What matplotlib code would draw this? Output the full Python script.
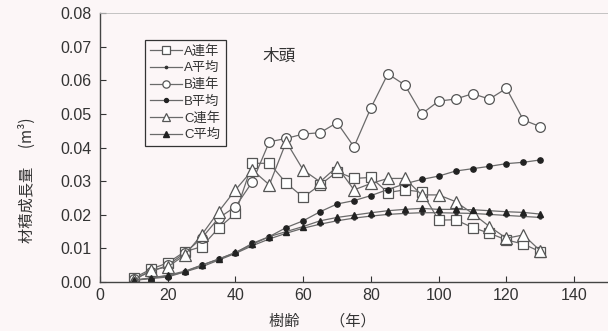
import numpy as np
import matplotlib
matplotlib.use("Agg")
import matplotlib.pyplot as plt

plt.rcParams['font.family'] = ['Liberation Sans', 'Noto Sans CJK JP', 'DejaVu Sans']

# Tree age (years)
ages = list(range(10, 135, 5))

# Annual volume growth (m3)
a_annual = [0.0012, 0.0038, 0.0057, 0.0090, 0.0105, 0.0160, 0.0204, 0.0353, 0.0353, 0.0294,
            0.0252, 0.0289, 0.0328, 0.0308, 0.0311, 0.0266, 0.0274, 0.0268, 0.0184, 0.0185,
            0.0162, 0.0145, 0.0125, 0.0113, 0.0090]
a_mean = [0.0005, 0.0012, 0.0018, 0.0030, 0.0045, 0.0065, 0.0085, 0.0108, 0.0128, 0.0145,
          0.0160, 0.0172, 0.0182, 0.0190, 0.0196, 0.0201, 0.0204, 0.0206, 0.0206, 0.0205,
          0.0204, 0.0201, 0.0198, 0.0195, 0.0192]
b_annual = [0.0010, 0.0030, 0.0050, 0.0086, 0.0130, 0.0190, 0.0224, 0.0298, 0.0417, 0.0427,
            0.0440, 0.0444, 0.0474, 0.0402, 0.0518, 0.0619, 0.0586, 0.0500, 0.0538, 0.0544,
            0.0560, 0.0544, 0.0576, 0.0482, 0.0462]
b_mean = [0.0005, 0.0010, 0.0015, 0.0030, 0.0050, 0.0068, 0.0087, 0.0115, 0.0135, 0.0162,
          0.0182, 0.0209, 0.0232, 0.0242, 0.0257, 0.0275, 0.0292, 0.0305, 0.0315, 0.0330,
          0.0337, 0.0344, 0.0352, 0.0356, 0.0363]
c_annual = [0.0005, 0.0035, 0.0045, 0.0080, 0.0140, 0.0209, 0.0274, 0.0333, 0.0289, 0.0417,
            0.0333, 0.0298, 0.0343, 0.0274, 0.0293, 0.0308, 0.0308, 0.0259, 0.0259, 0.0239,
            0.0204, 0.0165, 0.0130, 0.0140, 0.0093]
c_mean = [0.0005, 0.0012, 0.0020, 0.0032, 0.0050, 0.0068, 0.0088, 0.0112, 0.0135, 0.0150,
          0.0165, 0.0182, 0.0192, 0.0199, 0.0206, 0.0212, 0.0216, 0.0219, 0.0216, 0.0216,
          0.0215, 0.0212, 0.0209, 0.0207, 0.0202]

series_labels = ['A連年', 'A平均', 'B連年', 'B平均', 'C連年', 'C平均']
x_ticks = [0, 20, 40, 60, 80, 100, 120, 140]
y_ticks = [0.00, 0.01, 0.02, 0.03, 0.04, 0.05, 0.06, 0.07, 0.08]

bg = '#fcf6f7'
line_c = '#6a6a6a'
edge_c = '#555555'

fig = plt.figure(figsize=(6.08, 3.31), dpi=100, facecolor=bg)
ax = fig.add_axes([100/608, 49/331, 508/608, 269/331], facecolor=bg)

styles = [
    dict(marker='s', ms=7, mfc='white', mec=edge_c, mew=0.9),
    dict(marker='o', ms=2.2, mfc='#333333', mec='#333333'),
    dict(marker='o', ms=7, mfc='white', mec=edge_c, mew=0.9),
    dict(marker='o', ms=3.8, mfc='#222222', mec='#222222'),
    dict(marker='^', ms=8, mfc='white', mec=edge_c, mew=0.9),
    dict(marker='^', ms=5, mfc='#222222', mec='#222222'),
]
data = [a_annual, a_mean, b_annual, b_mean, c_annual, c_mean]

for vals, lab, st in zip(data, series_labels, styles):
    ax.plot(ages, vals, color=line_c, lw=0.9, label=lab, **st)

ax.set_xlim(0, 150)
ax.set_ylim(0, 0.08)
ax.set_xticks(x_ticks)
ax.set_yticks(y_ticks)
ax.set_xticklabels([str(t) for t in x_ticks])
ax.set_yticklabels([f'{t:.2f}' for t in y_ticks])
ax.tick_params(direction='in', length=4, width=0.8, labelsize=11.5, colors='#333333')
ax.tick_params(axis='x', pad=4)
ax.tick_params(axis='y', pad=6)
ax.spines['right'].set_visible(False)
ax.spines['top'].set_color('#bbbbbb')
ax.spines['top'].set_linewidth(0.6)
for s in ('left', 'bottom'):
    ax.spines[s].set_color('#444444')
    ax.spines[s].set_linewidth(1.0)

leg = ax.legend(loc='upper left', bbox_to_anchor=(0.075, 0.925), frameon=True,
                fancybox=False, edgecolor='#333333', facecolor=bg, framealpha=1,
                handlelength=2.4, handletextpad=0.2, markerscale=0.75,
                borderpad=0.4, labelspacing=0.32,
                prop={'family': ['Liberation Sans', 'Noto Sans CJK JP'], 'size': 9.5})
leg.get_frame().set_linewidth(0.9)
for t in leg.get_texts():
    t.set_color('#333333')

ax.text(53, 0.0672, '木頭', fontsize=12, color='#333333',
        family=['Noto Sans CJK JP'], ha='center', va='center')

fig.text(322/608, 10/331, '樹齢　　（年）', fontsize=11, color='#333333',
         family=['Noto Sans CJK JP'], ha='center', va='center')
fig.text(27/608, 151/331, '材積成長量　 (m³)', fontsize=11, color='#333333',
         family=['Noto Sans CJK JP', 'DejaVu Sans'], ha='center', va='center',
         rotation=90)

fig.savefig('out.png', dpi=100, facecolor=bg)
